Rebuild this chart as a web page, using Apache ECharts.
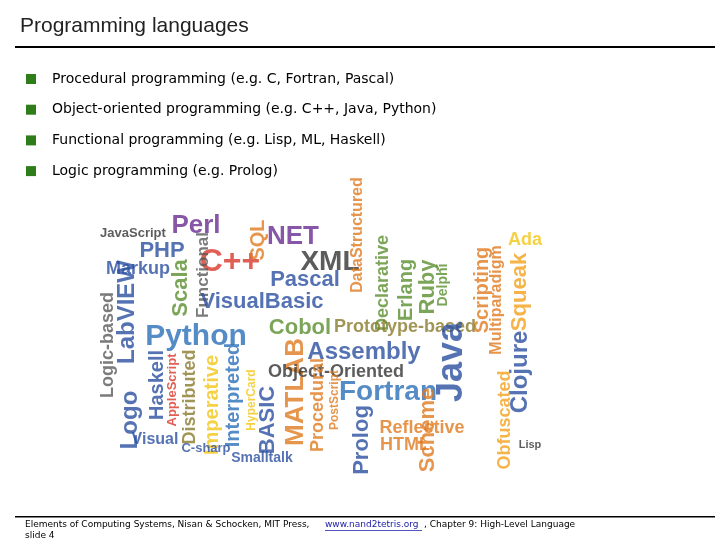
<!DOCTYPE html>
<html style="height:100%;width:100%;">
<head>
  <meta charset="utf-8">
  <title>Programming languages</title>
  <script src="https://cdn.jsdelivr.net/npm/echarts@6/dist/echarts.min.js"></script>
</head>
<body style="margin:0px;height:100%;width:100%;background:#fff;">
  <div id="main" style="width:720px;height:540px"></div>
  <script type="text/javascript">
    // slide text
    var titleText = 'Programming languages';
    var bullets = [
      'Procedural programming (e.g. C, Fortran, Pascal)',
      'Object-oriented programming (e.g. C++, Java, Python)',
      'Functional programming (e.g. Lisp, ML, Haskell)',
      'Logic programming (e.g. Prolog)'
    ];
    // word cloud: word, x, y, font size, vertical?, colour
    var words = ['JavaScript', 'Perl', 'NET', 'C++', 'SQL', 'XML', 'DataStructured', 'Ada', 'PHP', 'Markup',
      'Scala', 'Functional', 'Pascal', 'Erlang', 'Declarative', 'Ruby', 'Scripting', 'Squeak', 'LabVIEW',
      'VisualBasic', 'Cobol', 'Prototype-based', 'Python', 'Assembly', 'Logic-based', 'Java', 'Clojure',
      'MATLAB', 'Object-Oriented', 'Fortran', 'Haskell', 'Logo', 'Visual', 'Distributed', 'Imperative',
      'Interpreted', 'BASIC', 'Procedural', 'Prolog', 'Scheme', 'Reflective', 'HTML', 'Obfuscated', 'Lisp',
      'C-sharp', 'Smalltalk', 'Multiparadigm', 'Delphi', 'AppleScript', 'PostScript', 'HyperCard'];
    var wordX = [133, 196, 293, 230, 258, 330, 358, 525, 162, 138, 181, 203, 305, 406, 383, 428, 482, 520, 127,
      262, 300, 405, 196, 364, 108, 452, 520, 296, 336, 388, 157, 130, 155, 190, 212, 233, 268, 318, 362, 428,
      422, 405, 505, 530, 206, 262, 497, 443, 172, 335, 252];
    var wordY = [233, 226, 237, 262, 240, 262, 235, 240, 251, 269, 288, 275, 280, 290, 283, 287, 290, 292, 312,
      302, 328, 327, 337, 352, 345, 362, 372, 392, 372, 392, 385, 420, 440, 397, 405, 395, 420, 405, 440, 430,
      428, 445, 420, 445, 448, 458, 300, 285, 390, 400, 400];
    var wordSize = [13, 26, 26, 32, 20, 28, 16, 18, 22, 18, 22, 17, 22, 20, 18, 22, 20, 22, 24, 22, 22, 18, 30,
      24, 18, 36, 24, 26, 18, 28, 20, 24, 16, 18, 20, 20, 22, 18, 22, 22, 18, 18, 18, 11, 13, 14, 16, 14, 13,
      12, 12];
    var wordVert = [0, 0, 0, 0, 1, 0, 1, 0, 0, 0, 1, 1, 0, 1, 1, 1, 1, 1, 1, 0, 0, 0, 0, 0, 1, 1, 1, 1, 0, 0, 1,
      1, 0, 1, 1, 1, 1, 1, 1, 1, 0, 0, 1, 0, 0, 0, 1, 1, 1, 1, 1];
    var wordColor = ['#333', '#6a2c91', '#6a2c91', '#d9382b', '#e07b20', '#333', '#e07b20', '#f2c618', '#2a4fa0',
      '#2a4fa0', '#5a8f2e', '#5a5a5a', '#2a4fa0', '#5a8f2e', '#5a8f2e', '#5a8f2e', '#e07b20', '#f2a01a',
      '#2a4fa0', '#2a4fa0', '#5a8f2e', '#8a7a2a', '#2a6fb8', '#2a4fa0', '#5a5a5a', '#2a4fa0', '#2a4fa0',
      '#e07b20', '#333', '#2a6fb8', '#2a4fa0', '#2a4fa0', '#2a4fa0', '#8a7a2a', '#f2c618', '#2a6fb8',
      '#2a4fa0', '#e07b20', '#2a4fa0', '#e07b20', '#e07b20', '#e07b20', '#f2a01a', '#333', '#2a4fa0',
      '#2a4fa0', '#e07b20', '#5a8f2e', '#d9382b', '#e07b20', '#f2c618'];

    var cloud = words.map(function (w, i) {
      return {
        value: [wordX[i], wordY[i]],
        label: {
          formatter: w,
          fontSize: wordSize[i],
          fontWeight: 'bold',
          color: wordColor[i],
          rotate: wordVert[i] ? 90 : 0
        }
      };
    });

    var bulletGraphics = [];
    bullets.forEach(function (b, i) {
      var y = 79 + i * 30.7;
      bulletGraphics.push({ type: 'rect', shape: { x: 26, y: y - 5, width: 10, height: 10 }, style: { fill: '#2e7d1a' } });
      bulletGraphics.push({ type: 'text', x: 52, y: y, style: { text: b, font: '14px "DejaVu Sans"', fill: '#000', textVerticalAlign: 'middle' } });
    });

    var myChart = echarts.init(document.getElementById('main'));
    var option = {
      animation: false,
      grid: { left: 0, top: 0, width: 720, height: 540 },
      xAxis: { type: 'value', min: 0, max: 720, show: false },
      yAxis: { type: 'value', min: 0, max: 540, inverse: true, show: false },
      graphic: [
        { type: 'text', x: 20, y: 16, style: { text: titleText, font: '21px "Liberation Sans"', fill: '#222' } },
        { type: 'rect', shape: { x: 15, y: 46, width: 700, height: 2 }, style: { fill: '#000' } },
        { type: 'rect', shape: { x: 15, y: 516, width: 700, height: 1.5 }, style: { fill: '#000' } },
        { type: 'text', x: 25, y: 520, style: { text: 'Elements of Computing Systems, Nisan & Schocken, MIT Press,', font: '9px "DejaVu Sans"', fill: '#000' } },
        { type: 'text', x: 325, y: 520, style: { text: 'www.nand2tetris.org', font: '9px "DejaVu Sans"', fill: '#1a1aa6' } },
        { type: 'rect', shape: { x: 325, y: 530, width: 97, height: 0.8 }, style: { fill: '#1a1aa6' } },
        { type: 'text', x: 424, y: 520, style: { text: ', Chapter 9: High-Level Language', font: '9px "DejaVu Sans"', fill: '#000' } },
        { type: 'text', x: 25, y: 531, style: { text: 'slide 4', font: '9px "DejaVu Sans"', fill: '#000' } }
      ].concat(bulletGraphics),
      series: [{
        type: 'scatter',
        symbolSize: 0,
        label: { show: true, position: 'inside', fontFamily: 'Liberation Sans' },
        data: cloud
      }]
    };
    myChart.setOption(option);
  </script>
</body>
</html>
